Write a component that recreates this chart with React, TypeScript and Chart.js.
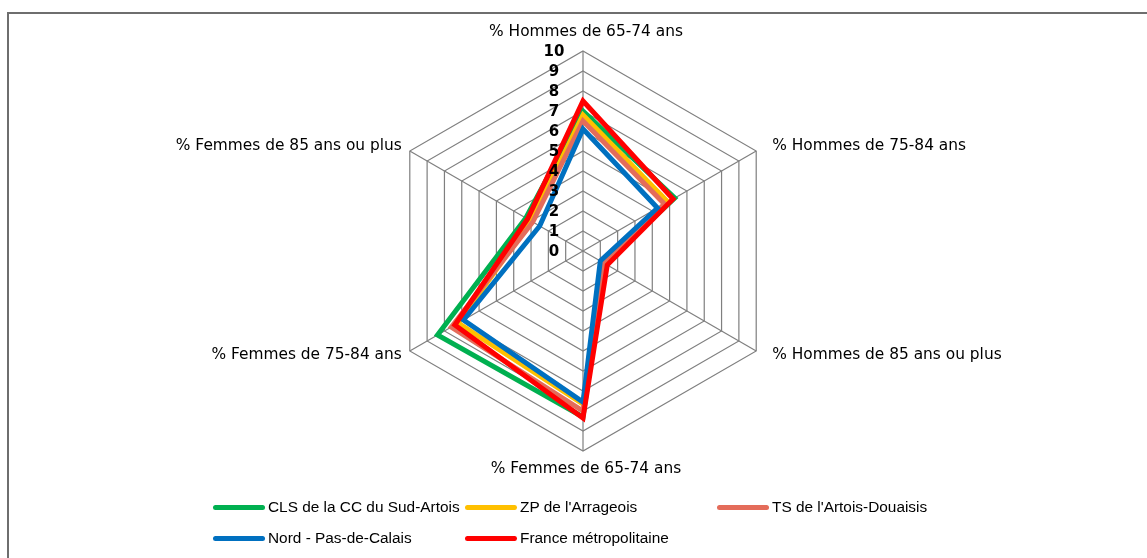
import React, { useEffect, useRef } from "react";
import { Chart, registerables } from "chart.js";

Chart.register(...registerables);

const axisLabels = [
  "% Hommes de 65-74 ans",
  "% Hommes de 75-84 ans",
  "% Hommes de 85 ans ou plus",
  "% Femmes de 65-74 ans",
  "% Femmes de 75-84 ans",
  "% Femmes de 85 ans ou plus",
];

const tickValues = [0, 1, 2, 3, 4, 5, 6, 7, 8, 9, 10];
const tickLabels = ["0", "1", "2", "3", "4", "5", "6", "7", "8", "9", "10"];

const seriesNames = [
  "CLS de la CC du Sud-Artois",
  "ZP de l'Arrageois",
  "TS de l'Artois-Douaisis",
  "Nord - Pas-de-Calais",
  "France métropolitaine",
];

const clsValues = [7.0, 5.3, 1.25, 8.3, 8.4, 3.3];
const zpValues = [6.8, 4.9, 1.2, 7.65, 7.2, 3.0];
const tsValues = [6.5, 4.7, 1.15, 8.0, 7.6, 2.9];
const nordValues = [6.1, 4.3, 1.0, 7.55, 6.9, 2.5];
const franceValues = [7.5, 5.2, 1.4, 8.35, 7.4, 3.2];

const seriesColors = ["#00B050", "#FFC000", "#E46C5A", "#0070C0", "#FF0000"];
const seriesData = [clsValues, zpValues, tsValues, nordValues, franceValues];

const labelPlugin = {
  id: "customRadarLabels",
  afterDatasetsDraw(chart: any) {
    const scale = chart.scales.r;
    const ctx = chart.ctx;
    ctx.save();
    const xC = scale.xCenter;
    const yC = scale.yCenter;
    const R = scale.drawingArea;
    // axis (point) labels
    ctx.font = "15.4px 'DejaVu Sans'";
    ctx.fillStyle = "#000";
    ctx.textBaseline = "middle";
    axisLabels.forEach((lab, i) => {
      const v = scale.getPointPosition(i, R);
      const cos = (v.x - xC) / R;
      if (Math.abs(cos) < 0.1) {
        ctx.textAlign = "center";
        const y = v.y < yC ? v.y - 19 : v.y + 18;
        ctx.fillText(lab, v.x + 3, y);
      } else {
        const y = v.y < yC ? v.y - 5 : v.y + 4;
        if (cos > 0) {
          ctx.textAlign = "left";
          ctx.fillText(lab, v.x + 16, y);
        } else {
          ctx.textAlign = "right";
          ctx.fillText(lab, v.x - 8, y);
        }
      }
    });
    // tick labels
    ctx.font = "bold 15px 'DejaVu Sans'";
    ctx.textAlign = "center";
    tickLabels.forEach((t, i) => {
      const d = scale.getDistanceFromCenterForValue(tickValues[i]);
      ctx.fillText(t, xC - 29, yC - d + 1);
    });
    ctx.restore();
  },
};

export default function App() {
  const canvasRef = useRef<HTMLCanvasElement | null>(null);

  useEffect(() => {
    if (!canvasRef.current) return;
    const n = seriesNames.length;
    const chart = new Chart(canvasRef.current, {
      type: "radar",
      data: {
        labels: axisLabels,
        datasets: seriesNames.map((name, i) => ({
          label: name,
          data: seriesData[i],
          borderColor: seriesColors[i],
          backgroundColor: "transparent",
          borderWidth: 5,
          fill: false,
          pointRadius: 0,
          pointHoverRadius: 0,
          order: n - i,
        })),
      },
      options: {
        responsive: false,
        animation: false,
        layout: { padding: { left: 383, right: 364, top: 51, bottom: 107 } },
        plugins: {
          legend: { display: false },
          tooltip: { enabled: false },
        },
        elements: { line: { tension: 0, borderJoinStyle: "miter" } },
        scales: {
          r: {
            min: 0,
            max: 10,
            ticks: { stepSize: 1, display: false },
            grid: { color: "#7f7f7f", lineWidth: 1.2 },
            angleLines: { color: "#7f7f7f", lineWidth: 1.2 },
            pointLabels: { display: false },
          },
        },
      },
      plugins: [labelPlugin],
    });
    return () => chart.destroy();
  }, []);

  const legendPos = [
    { x: 213, y: 507 },
    { x: 465, y: 507 },
    { x: 717, y: 507 },
    { x: 213, y: 538 },
    { x: 465, y: 538 },
  ];

  return (
    <div
      style={{
        position: "fixed",
        left: 0,
        top: 0,
        width: 1147,
        height: 558,
        background: "#fff",
        overflow: "hidden",
      }}
    >
      <canvas ref={canvasRef} width={1147} height={558} style={{ position: "absolute", left: 0, top: 0 }} />
      <div
        style={{
          position: "absolute",
          left: 7,
          top: 12,
          width: 1200,
          height: 600,
          borderLeft: "2px solid #6e6e6e",
          borderTop: "2px solid #6e6e6e",
          pointerEvents: "none",
        }}
      />
      {seriesNames.map((name, i) => (
        <div
          key={name}
          style={{
            position: "absolute",
            left: legendPos[i].x,
            top: legendPos[i].y - 10,
            height: 20,
            display: "flex",
            alignItems: "center",
            fontFamily: "'Liberation Sans', Arial, sans-serif",
            fontSize: 15.4,
            color: "#000",
            whiteSpace: "nowrap",
          }}
        >
          <span
            style={{
              display: "inline-block",
              width: 52,
              height: 5,
              borderRadius: 3,
              background: seriesColors[i],
              marginRight: 3,
            }}
          />
          <span>{name}</span>
        </div>
      ))}
    </div>
  );
}
